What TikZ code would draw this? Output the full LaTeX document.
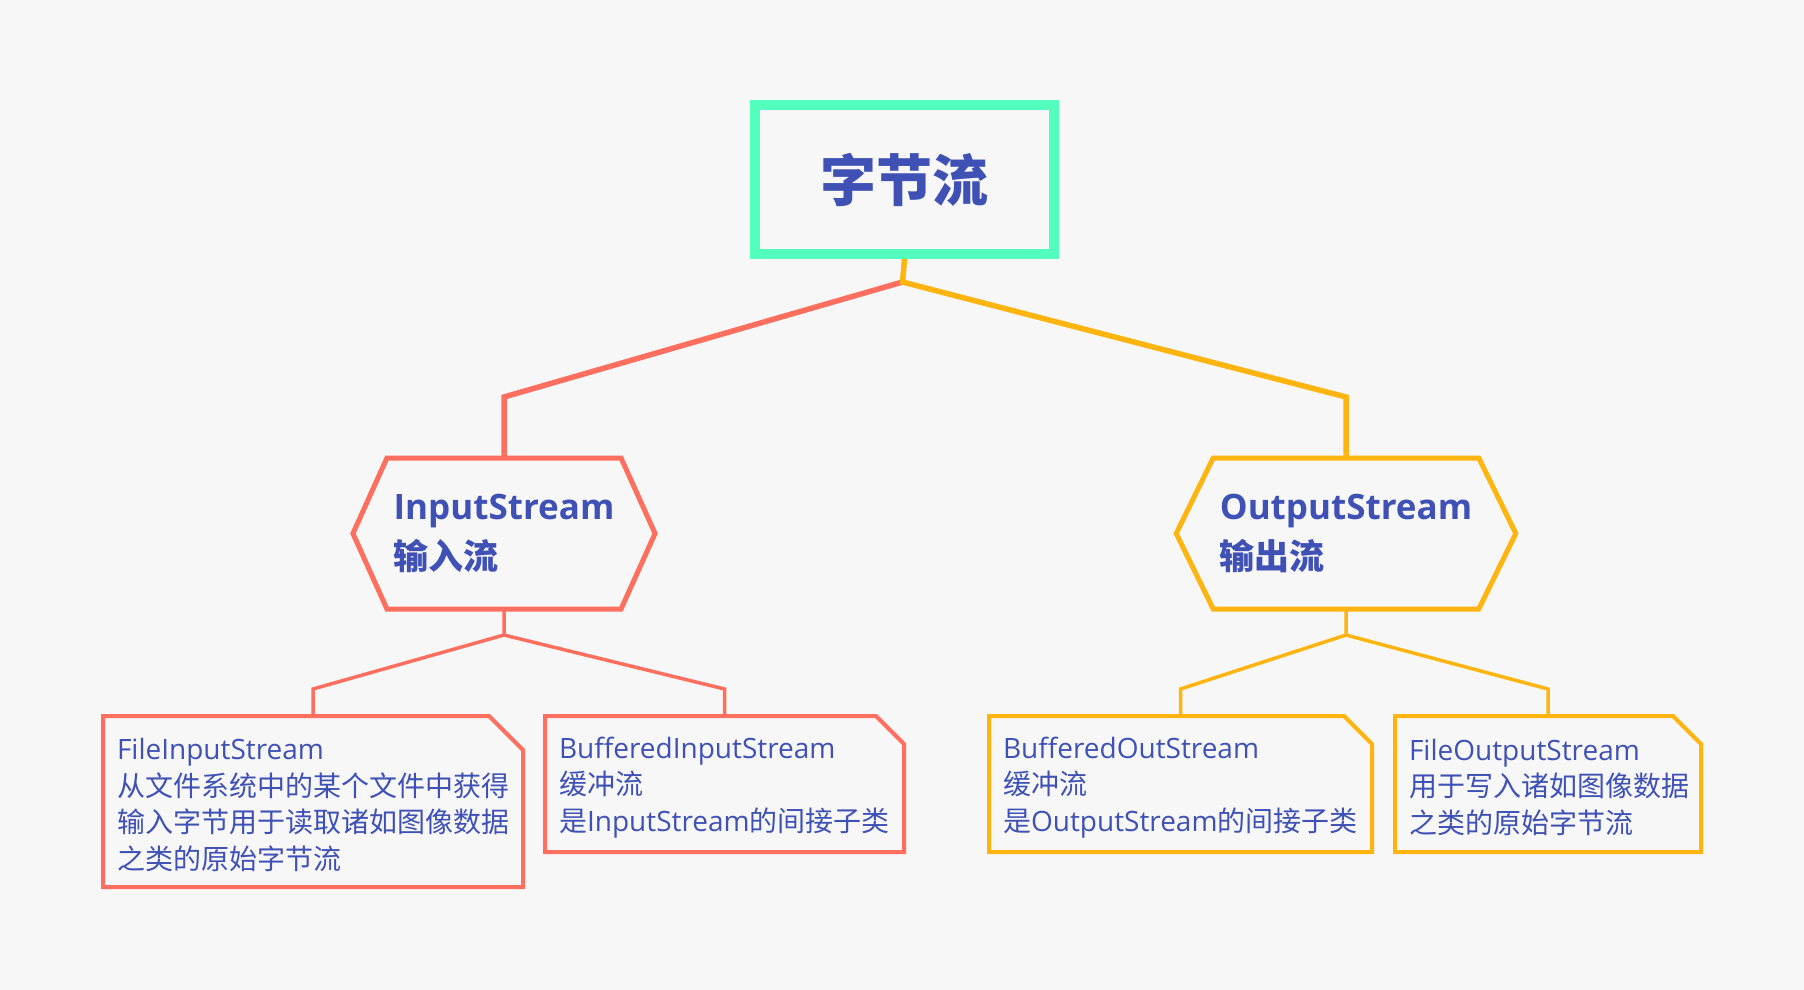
\documentclass[tikz,border=0pt]{standalone}
\usepackage{fontspec}
\setmainfont{Noto Sans CJK SC}
\newfontfamily\enfont{Open Sans}
\usetikzlibrary{calc}

\definecolor{bgcol}{HTML}{F7F7F7}
\definecolor{rootgreen}{HTML}{52FFBD}
\definecolor{inred}{HTML}{FF6F5F}
\definecolor{outyellow}{HTML}{FFB40F}
\definecolor{textblue}{HTML}{3F51B5}

% hexagon round a node: name, style, point length
\newcommand{\hexframe}[3]{\draw[#2] (#1.north west) -- (#1.north east) -- ([xshift=#3]#1.east) -- (#1.south east) -- (#1.south west) -- ([xshift=-#3]#1.west) -- cycle;}
% box with cut corner: name, style, cut
\newcommand{\leafframe}[3]{\draw[#2] (#1.south west) -- (#1.north west) -- ([xshift=-#3]#1.north east) -- ([yshift=-#3]#1.north east) -- (#1.south east) -- cycle;}

\begin{document}
\begin{tikzpicture}[x=0.5pt, y=-0.5pt, text=textblue,
        topbox/.style={draw=rootgreen, line width=5pt, minimum width=149.5pt, minimum height=74.5pt, font=\fontsize{28pt}{32pt}\selectfont\bfseries},
        streambox/.style={minimum height=75.5pt, outer sep=0pt, align=left, font=\fontsize{17.5pt}{25pt}\selectfont\bfseries},
        leafbox/.style={outer sep=0pt, inner xsep=7pt, minimum height=68pt, align=left, font=\fontsize{14pt}{18.25pt}\selectfont, execute at begin node={\rule{0pt}{14pt}}},
        hexline/.style={line width=2.5pt},
        leafline/.style={line width=2pt},
        bigline/.style={line width=2.75pt},
        smallline/.style={line width=1.75pt}]
    \fill[bgcol] (0,0) rectangle (1804,990);
    \useasboundingbox (0,0) rectangle (1804,990);

    \node[topbox] (root) at (904.5,179.5) {字节流};

    \node[streambox, minimum width=116pt] (in) at (504,533.5) {{\enfont InputStream}\\输入流};
    \node[streambox, minimum width=129pt] (out) at (1346,533.5) {{\enfont OutputStream}\\输出流};
    \hexframe{in}{draw=inred, hexline}{17pt}
    \hexframe{out}{draw=outyellow, hexline}{18.5pt}

    \node[leafbox, text width=196pt, minimum height=85.5pt] (fis) at (313,801.5)
        {{\enfont FileInputStream}\\从文件系统中的某个文件中获得\\输入字节用于读取诸如图像数据\\之类的原始字节流};
    \node[leafbox, text width=165.5pt] (bis) at (724.5,784)
        {{\enfont BufferedInputStream}\\缓冲流\\是{\enfont InputStream}的间接子类};
    \node[leafbox, text width=177.5pt] (bos) at (1180.5,784)
        {{\enfont BufferedOutStream}\\缓冲流\\是{\enfont OutputStream}的间接子类};
    \node[leafbox, text width=139pt] (fos) at (1548,784)
        {{\enfont FileOutputStream}\\用于写入诸如图像数据\\之类的原始字节流};
    \leafframe{fis}{draw=inred, leafline}{17pt}
    \leafframe{bis}{draw=inred, leafline}{14pt}
    \leafframe{bos}{draw=outyellow, leafline}{14pt}
    \leafframe{fos}{draw=outyellow, leafline}{14pt}

    % top branches
    \coordinate (rootjoin) at ($(root.south)+(-2,23)$);
    \draw[inred, bigline] (rootjoin) -- ($(in.north)+(0,-61)$) -- (in.north);
    \draw[outyellow, bigline] (root.south) -- (rootjoin) -- ($(out.north)+(0,-61)$) -- (out.north);

    % leaf branches
    \coordinate (injoin) at ($(in.south)+(0,26)$);
    \coordinate (outjoin) at ($(out.south)+(0,26)$);
    \draw[inred, smallline] (in.south) -- (injoin) -- ($(fis.north)+(0,-27)$) -- (fis.north);
    \draw[inred, smallline] (injoin) -- ($(bis.north)+(0,-27)$) -- (bis.north);
    \draw[outyellow, smallline] (out.south) -- (outjoin) -- ($(bos.north)+(0,-27)$) -- (bos.north);
    \draw[outyellow, smallline] (outjoin) -- ($(fos.north)+(0,-27)$) -- (fos.north);
\end{tikzpicture}
\end{document}
